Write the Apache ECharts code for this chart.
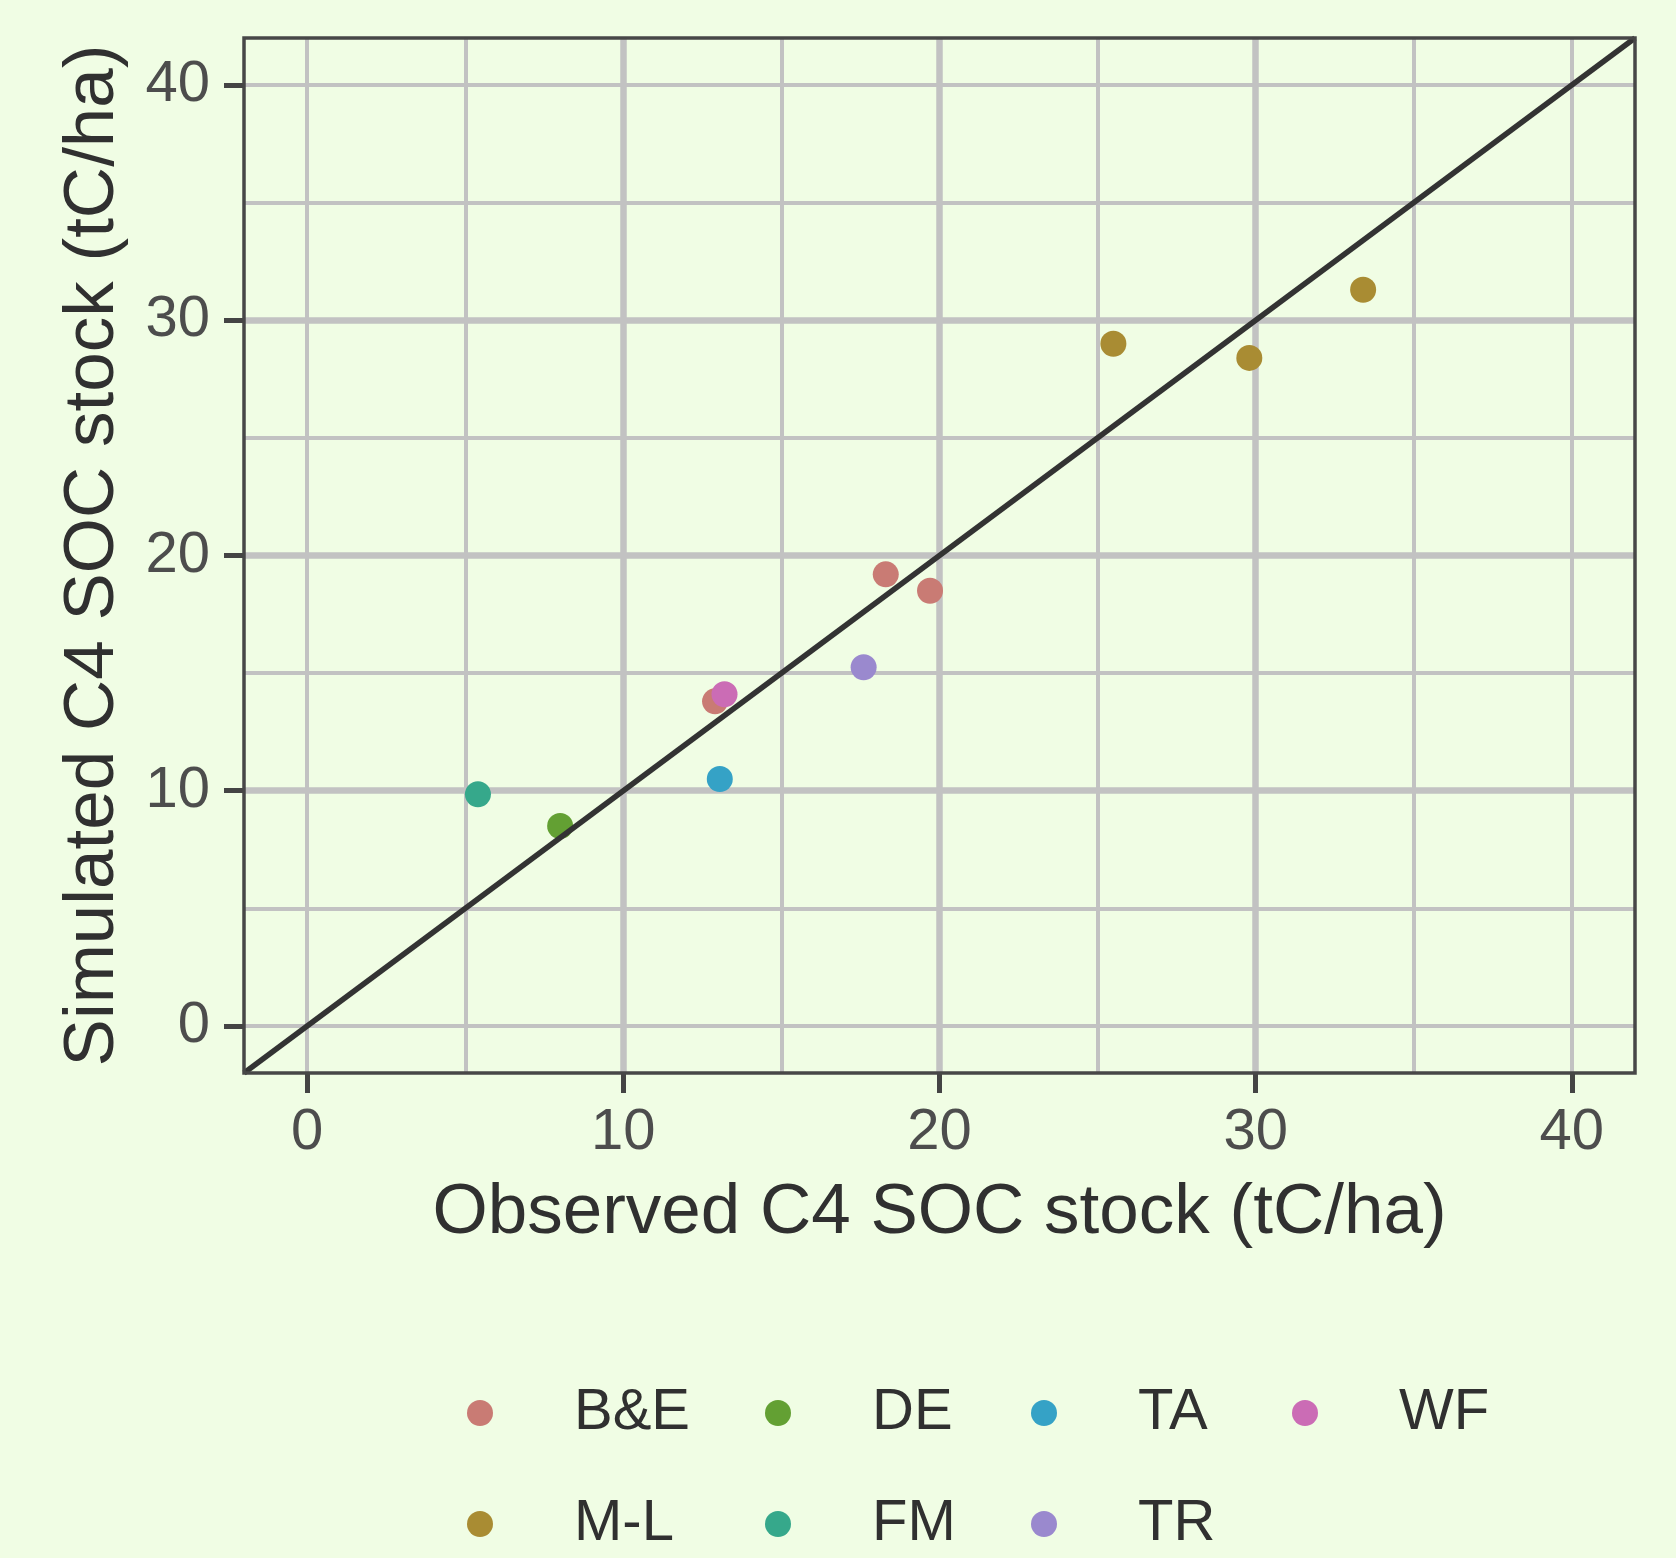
<!DOCTYPE html>
<html>
<head>
<meta charset="utf-8">
<style>
html, body { margin: 0; padding: 0; background: #F0FDE4; }
#chart { width: 1676px; height: 1558px; }
</style>
<script src="https://cdn.jsdelivr.net/npm/echarts@6/dist/echarts.min.js"></script>
</head>
<body>
<div id="chart"></div>
<script>
// groups in factor order (legend fills by column)
var groups = ['B&E', 'M-L', 'DE', 'FM', 'TA', 'TR', 'WF'];
var groupColors = ['#C97B74', '#A98C33', '#63A033', '#36A88B', '#35A2C6', '#9A89CE', '#CB6CB5'];

// observed (x) and simulated (y) C4 SOC stock, tC/ha
var obsBE = [18.3, 19.7, 12.9];
var simBE = [19.2, 18.5, 13.8];
var obsML = [25.5, 29.8, 33.4];
var simML = [29.0, 28.4, 31.3];
var obsDE = [8.0];
var simDE = [8.5];
var obsFM = [5.4];
var simFM = [9.85];
var obsTA = [13.05];
var simTA = [10.5];
var obsTR = [17.6];
var simTR = [15.25];
var obsWF = [13.2];
var simWF = [14.1];

var obsAll = [obsBE, obsML, obsDE, obsFM, obsTA, obsTR, obsWF];
var simAll = [simBE, simML, simDE, simFM, simTA, simTR, simWF];

var oneToOne = [-2, 42];
var axisMin = -2, axisMax = 42;
var tickValues = [0, 10, 20, 30, 40];

var legendCols = [['B&E', 'M-L'], ['DE', 'FM'], ['TA', 'TR'], ['WF']];
var legendLefts = [467, 765, 1031, 1292];

var font = 'Liberation Sans, Arial, sans-serif';
var gridGrey = '#C2C2C2';

var chart = echarts.init(document.getElementById('chart'));

var series = groups.map(function (g, i) {
    return {
        name: g,
        type: 'scatter',
        xAxisIndex: 0,
        yAxisIndex: 0,
        symbol: 'circle',
        symbolSize: 26,
        itemStyle: { color: groupColors[i], opacity: 1 },
        data: obsAll[i].map(function (x, j) { return [x, simAll[i][j]]; })
    };
});
series.push({
    name: '1:1',
    type: 'line',
    xAxisIndex: 0,
    yAxisIndex: 0,
    symbol: 'none',
    silent: true,
    lineStyle: { color: '#333333', width: 5.5 },
    data: oneToOne.map(function (v) { return [v, v]; })
});

function majorAxis(dir, title) {
    var isX = dir === 'x';
    return {
        type: 'value',
        position: isX ? 'bottom' : 'left',
        min: axisMin,
        max: axisMax,
        minInterval: 10,
        maxInterval: 10,
        axisLine: { show: false, onZero: false },
        axisTick: {
            show: true, length: 20, customValues: tickValues,
            lineStyle: { color: '#444444', width: 5 }
        },
        axisLabel: {
            customValues: tickValues,
            margin: isX ? 31 : 34,
            fontSize: 58, lineHeight: 58,
            color: '#4D4D4D', fontFamily: font
        },
        splitLine: {
            show: true, showMinLine: false, showMaxLine: false,
            lineStyle: { color: gridGrey, width: 6.5 }
        },
        name: title,
        nameLocation: 'middle',
        nameGap: isX ? 105 : 115,
        nameTextStyle: { fontSize: 71, lineHeight: 71, color: '#303030', fontFamily: font }
    };
}

function minorAxis(dir) {
    return {
        type: 'value',
        position: dir === 'x' ? 'top' : 'right',
        min: axisMin,
        max: axisMax,
        minInterval: 5,
        maxInterval: 5,
        axisLine: { show: false, onZero: false },
        axisTick: { show: false },
        axisLabel: { show: false },
        splitLine: {
            show: true, showMinLine: false, showMaxLine: false,
            lineStyle: { color: gridGrey, width: 4 }
        }
    };
}

option = {
    backgroundColor: '#F0FDE4',
    animation: false,
    grid: {
        left: 244, top: 38, width: 1391, height: 1035,
        show: true, borderColor: '#474747', borderWidth: 3.5,
        backgroundColor: 'transparent', z: 10
    },
    legend: legendCols.map(function (names, k) {
        return {
            data: names,
            orient: 'vertical',
            left: legendLefts[k],
            top: 1384,
            padding: 0,
            itemGap: 53,
            itemWidth: 26,
            itemHeight: 26,
            icon: 'circle',
            selectedMode: false,
            textStyle: {
                fontSize: 58, lineHeight: 58, color: '#303030', fontFamily: font,
                padding: [0, 0, 0, 76]
            }
        };
    }),
    xAxis: [majorAxis('x', 'Observed C4 SOC stock (tC/ha)'), minorAxis('x')],
    yAxis: [majorAxis('y', 'Simulated C4 SOC stock (tC/ha)'), minorAxis('y')],
    series: series
};

chart.setOption(option);
</script>
</body>
</html>
